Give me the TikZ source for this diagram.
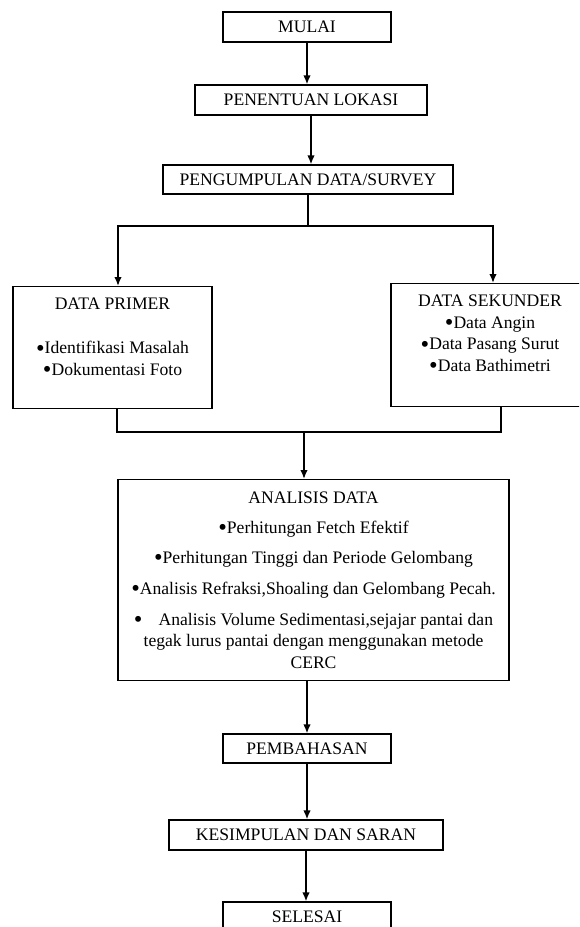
\documentclass[tikz,border=0pt]{standalone}
\usepackage{fontspec}
\setmainfont{Liberation Serif}
\usepackage{tikz}
\usetikzlibrary{shapes,arrows,arrows.meta,positioning}
\newcommand{\butir}{\raisebox{-2.2pt}{\scalebox{1.4}{\textbullet}}}

\begin{document}
\begin{tikzpicture}[x=1pt,y=-1pt,
	kotak/.style={draw, line width=1.3pt, inner sep=0pt, align=center, font=\fontsize{17.6}{21.5}\selectfont},
	panah/.style={-{Latex[length=9pt,width=7.5pt]}, line width=1.6pt},
	garis/.style={line width=1.6pt}]
				\clip (0,0) rectangle (579,927);

				\node [kotak, minimum width=168pt, minimum height=30pt] (mulai)       at (307,27)    {MULAI};
				\node [kotak, minimum width=232pt, minimum height=30pt] (penentuan)   at (311,100)   {PENENTUAN LOKASI};
				\node [kotak, minimum width=290pt, minimum height=29pt] (pengumpulan) at (308,179.5) {PENGUMPULAN DATA/SURVEY};

				\node [kotak, anchor=north, minimum width=199pt, text height=88.7pt, text depth=33.3pt] (primer) at (112.5,286)
					{DATA PRIMER\\[22.5pt]\butir Identifikasi Masalah\\\butir Dokumentasi Foto};
				\node [kotak, anchor=north, minimum width=198pt, text height=87.7pt, text depth=35.3pt] (sekunder) at (490,283)
					{DATA SEKUNDER\\\butir Data Angin\\\butir Data Pasang Surut\\\butir Data Bathimetri};

				\node [kotak, anchor=north, minimum width=391pt, text height=188.7pt, text depth=12.3pt] (analisis) at (313.5,479)
					{ANALISIS DATA\\[8.5pt]
					\butir Perhitungan Fetch Efektif\\[8.5pt]
					\butir Perhitungan Tinggi dan Periode Gelombang\\[9.5pt]
					\butir Analisis Refraksi,Shoaling dan Gelombang Pecah.\\[9.5pt]
					\butir\hspace{16pt}Analisis Volume Sedimentasi,sejajar pantai dan\\
					tegak lurus pantai dengan menggunakan metode\\
					CERC};

				\node [kotak, minimum width=168pt, minimum height=29pt] (pembahasan) at (307,748.5) {PEMBAHASAN};
				\node [kotak, minimum width=274pt, minimum height=30pt] (kesimpulan) at (306,835)   {KESIMPULAN DAN SARAN};
				\node [kotak, minimum width=168pt, minimum height=30pt] (selesai)    at (307,917)   {SELESAI};

				\draw [panah] (mulai.south) -- (mulai.south |- penentuan.north);
				\draw [panah] (penentuan.south) -- (penentuan.south |- pengumpulan.north);

				\coordinate (cabang) at (308,226);
				\draw [garis] (pengumpulan.south) -- (cabang);
				\draw [panah] (cabang) -| ([xshift=5.5pt]primer.north);
				\draw [panah] (cabang) -| ([xshift=3pt]sekunder.north);

				\coordinate (gabung) at (304,432);
				\draw [garis] ([xshift=4.5pt]primer.south) -- ([xshift=4.5pt]primer.south |- gabung) -- ([xshift=11pt]sekunder.south |- gabung) -- ([xshift=11pt]sekunder.south);
				\draw [panah] (gabung) -- (gabung |- analisis.north);

				\draw [panah] (analisis.south -| pembahasan) -- (pembahasan.north);
				\draw [panah] (pembahasan.south) -- (pembahasan.south |- kesimpulan.north);
				\draw [panah] (kesimpulan.south) -- (kesimpulan.south |- selesai.north);
\end{tikzpicture}
\end{document}
